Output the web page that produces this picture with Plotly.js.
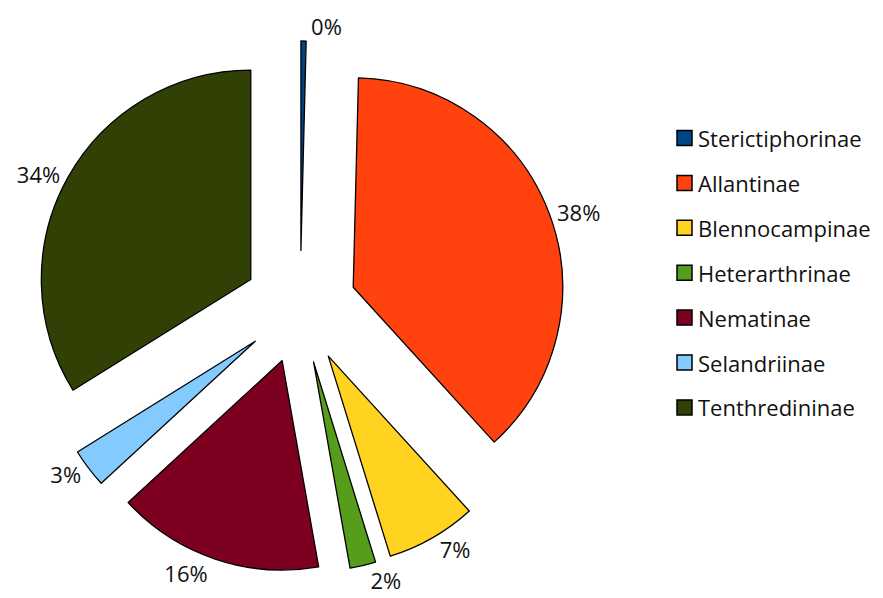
<!DOCTYPE html>
<html>
<head>
<meta charset="utf-8">
<script src="https://cdn.plot.ly/plotly-3.0.1.min.js"></script>
<style>html,body{margin:0;padding:0;background:#fff;}#chart{width:883px;height:598px;}</style>
</head>
<body>
<div id="chart"></div>
<script>
const labels = ["Sterictiphorinae","Allantinae","Blennocampinae","Heterarthrinae","Nematinae","Selandriinae","Tenthredininae"];
const values = [0.4, 38, 7, 2, 16, 3, 34];
const colors = ["#004586","#ff420e","#ffd320","#579d1c","#7e0021","#83caff","#314004"];

const W = 883, H = 598, MT = 41, MB = 25;
const PH = H - MT - MB;
const FONT = "Open Sans, DejaVu Sans, sans-serif";
const FS = 22;

const trace = {
  type: "pie",
  labels: labels,
  values: values,
  sort: false,
  direction: "clockwise",
  rotation: 0,
  pull: labels.map(() => 0.27),
  marker: {colors: colors, line: {color: "#000", width: 1.3}},
  textposition: "outside",
  texttemplate: "%{percent:.0%}",
  textfont: {family: FONT, size: FS, color: "#111"},
  outsidetextfont: {family: FONT, size: FS, color: "#111"},
  domain: {x: [0.038, 0.642], y: [0, 1]},
  showlegend: false,
  hoverinfo: "label+percent"
};

// manual legend built from label/colour arrays
const legY0 = 138, legStep = 44.9;
const shapes = [], annotations = [];
labels.forEach((lab, i) => {
  const py = legY0 + i * legStep;
  const toY = p => (H - MB - p) / PH;
  shapes.push({type: "rect", xref: "paper", yref: "paper",
    x0: 677 / W, x1: 692 / W, y0: toY(py - 7.5), y1: toY(py + 7.5),
    fillcolor: colors[i], line: {color: "#000", width: 1.5}});
  annotations.push({xref: "paper", yref: "paper", x: 696 / W, y: toY(py),
    xanchor: "left", yanchor: "middle", showarrow: false, text: lab,
    font: {family: FONT, size: FS, color: "#111"}});
});

const layout = {
  width: W, height: H,
  margin: {l: 0, r: 0, t: MT, b: MB},
  paper_bgcolor: "#fff", plot_bgcolor: "#fff",
  showlegend: false,
  shapes: shapes,
  annotations: annotations
};
Plotly.newPlot("chart", [trace], layout, {displayModeBar: false, staticPlot: true});
</script>
</body>
</html>
